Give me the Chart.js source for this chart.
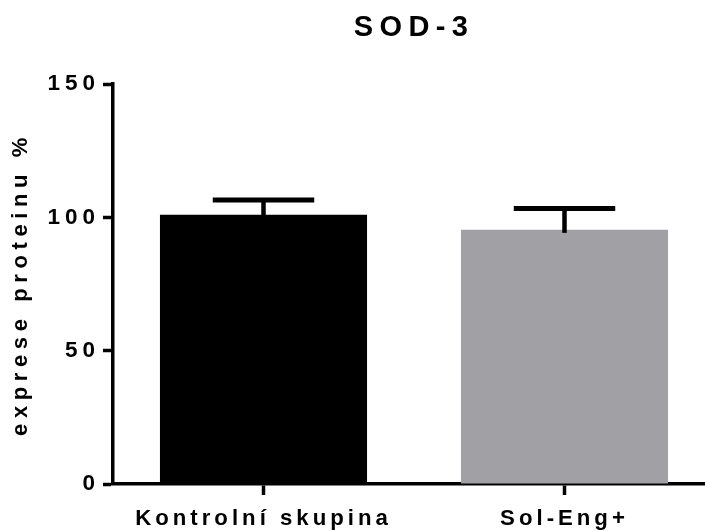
<!DOCTYPE html>
<html>
<head>
<meta charset="utf-8">
<script src="https://cdn.jsdelivr.net/npm/chart.js@4/dist/chart.umd.min.js"></script>
<style>
  html, body { margin: 0; padding: 0; background: #fff; }
  #wrap { width: 705px; height: 531px; overflow: hidden; position: relative; }
  canvas { display: block; }
</style>
</head>
<body>
<div id="wrap"><canvas id="c" width="715" height="531"></canvas></div>
<script>
// ---- data ----
const chartTitle = 'SOD-3';
const yAxisTitle = 'exprese proteinu %';
const categories = ['Kontrolní skupina', 'Sol-Eng+'];
const means = [101, 95.3];
const errors = [5.5, 8];
const yTicks = [0, 50, 100, 150];
const barColors = ['#000000', '#a1a0a5'];

// ---- letter spacing per font size (Prism-like spaced text) ----
const FONT = '"Liberation Sans", Arial, sans-serif';
const spacingBySize = { '29': '6.4px', '22.2': '4px', '22.5': '5px', '22': '5.6px' };
(function () {
  const proto = CanvasRenderingContext2D.prototype;
  function apply(ctx) {
    const m = /(\d+(?:\.\d+)?)px/.exec(ctx.font);
    const sp = (m && spacingBySize[m[1]]) || '0px';
    if ('letterSpacing' in ctx) ctx.letterSpacing = sp;
  }
  const oFill = proto.fillText, oMeasure = proto.measureText;
  proto.fillText = function () { apply(this); return oFill.apply(this, arguments); };
  proto.measureText = function () { apply(this); return oMeasure.apply(this, arguments); };
})();

const errorBarPlugin = {
  id: 'errorBars',
  afterDatasetsDraw(chart) {
    const ctx = chart.ctx;
    const meta = chart.getDatasetMeta(0);
    const y = chart.scales.y;
    ctx.save();
    ctx.strokeStyle = '#000';
    ctx.lineCap = 'butt';
    meta.data.forEach((bar, i) => {
      const top = y.getPixelForValue(means[i] + errors[i]);
      const base = y.getPixelForValue(means[i]);
      const half = bar.width * 0.245;
      ctx.lineWidth = 4.5;
      ctx.beginPath();
      ctx.moveTo(bar.x, base + 3);
      ctx.lineTo(bar.x, top);
      ctx.stroke();
      ctx.lineWidth = 5;
      ctx.beginPath();
      ctx.moveTo(bar.x - half, top);
      ctx.lineTo(bar.x + half, top);
      ctx.stroke();
    });
    ctx.restore();
  }
};

new Chart(document.getElementById('c'), {
  type: 'bar',
  data: {
    labels: categories,
    datasets: [{
      data: means,
      backgroundColor: barColors,
      borderWidth: 0,
      barPercentage: 0.688,
      categoryPercentage: 1
    }]
  },
  options: {
    responsive: false,
    animation: false,
    devicePixelRatio: 1,
    layout: { padding: 0 },
    plugins: {
      legend: { display: false },
      tooltip: { enabled: false },
      title: {
        display: true,
        text: chartTitle,
        fullSize: false,
        color: '#000',
        font: { family: FONT, size: 29, weight: 'bold', lineHeight: 1.2 },
        padding: { top: 11, bottom: 38.2 }
      }
    },
    scales: {
      x: {
        type: 'category',
        offset: true,
        grid: { display: true, offset: false, drawOnChartArea: false, drawTicks: true, tickLength: 11, tickWidth: 3.5, tickColor: '#000' },
        border: { display: true, color: '#000', width: 3.5 },
        ticks: {
          color: '#000', padding: 11, maxRotation: 0, minRotation: 0, autoSkip: false,
          font: { family: FONT, size: 22.2, weight: 'bold', lineHeight: 1.2 }
        },
        afterFit(scale) { scale.height = 47; }
      },
      y: {
        min: 0, max: 150,
        afterBuildTicks(scale) { scale.ticks = yTicks.map(v => ({ value: v })); },
        grid: { display: true, drawOnChartArea: false, drawTicks: true, tickLength: 10, tickWidth: 3.5, tickColor: '#000' },
        border: { display: true, color: '#000', width: 3.5 },
        ticks: {
          color: '#000', padding: 3,
          font: { family: FONT, size: 22.5, weight: 'bold', lineHeight: 1.2 }
        },
        title: {
          display: true,
          text: yAxisTitle,
          color: '#000',
          font: { family: FONT, size: 22, weight: 'bold', lineHeight: 1.2 },
          padding: { top: 8, bottom: 0 }
        },
        afterFit(scale) { scale.width = 113; }
      }
    }
  },
  plugins: [errorBarPlugin]
});
</script>
</body>
</html>
